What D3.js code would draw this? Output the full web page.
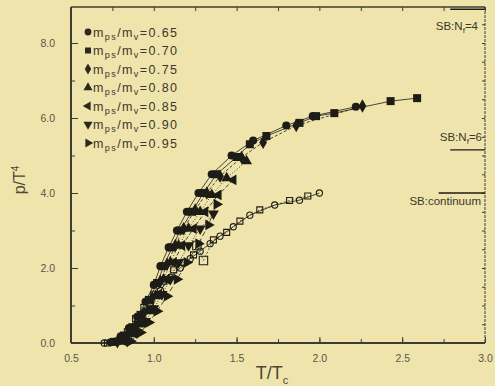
<!DOCTYPE html>
<html>
<head>
<meta charset="utf-8">
<script src="https://cdn.jsdelivr.net/npm/d3@7"></script>
<style>
  body { margin: 0; background: #eee4ac; }
  svg { display: block; font-family: "Liberation Sans", Arial, sans-serif; }
  .tick text { fill: #5a5848; font-size: 10.5px; }
</style>
</head>
<body>
<script>
// mass ratios for the filled series, in legend order
var ratios = ["0.65", "0.70", "0.75", "0.80", "0.85", "0.90", "0.95"];
var shapes = [d3.symbolCircle, d3.symbolSquare, d3.symbolDiamond, "up", "left", "down", "right"];

// T/Tc and p/T^4 per series
var t065 = [0.74, 0.80, 0.85, 0.90, 0.95, 1.00, 1.04, 1.09, 1.14, 1.20, 1.27, 1.35, 1.47, 1.60, 1.80, 1.96, 2.22];
var p065 = [0.02, 0.18, 0.40, 0.70, 1.10, 1.55, 2.05, 2.55, 3.00, 3.50, 4.00, 4.50, 5.00, 5.40, 5.80, 6.05, 6.30];
var t070 = [0.76, 0.82, 0.87, 0.92, 0.97, 1.02, 1.06, 1.11, 1.16, 1.23, 1.30, 1.38, 1.50, 1.58, 1.68, 1.88, 1.98, 2.09, 2.43, 2.59];
var p070 = [0.03, 0.20, 0.42, 0.75, 1.15, 1.60, 2.05, 2.55, 3.00, 3.50, 4.00, 4.50, 4.96, 5.30, 5.52, 5.87, 6.05, 6.13, 6.45, 6.53];
var t075 = [0.78, 0.84, 0.89, 0.94, 0.99, 1.04, 1.08, 1.13, 1.18, 1.25, 1.32, 1.40, 1.53, 1.66, 1.86, 2.26];
var p075 = [0.03, 0.22, 0.45, 0.80, 1.20, 1.65, 2.10, 2.60, 3.05, 3.55, 4.00, 4.45, 4.95, 5.35, 5.80, 6.32];
var t080 = [0.80, 0.86, 0.91, 0.96, 1.01, 1.06, 1.10, 1.15, 1.21, 1.28, 1.35, 1.44, 1.56];
var p080 = [0.04, 0.24, 0.50, 0.85, 1.25, 1.70, 2.15, 2.60, 3.05, 3.50, 3.95, 4.40, 4.85];
var t085 = [0.82, 0.88, 0.93, 0.98, 1.03, 1.08, 1.12, 1.17, 1.24, 1.31, 1.39, 1.48];
var p085 = [0.05, 0.26, 0.55, 0.90, 1.30, 1.70, 2.15, 2.60, 3.05, 3.50, 3.95, 4.35];
var t090 = [0.84, 0.90, 0.95, 1.00, 1.05, 1.10, 1.15, 1.21, 1.28, 1.36];
var p090 = [0.05, 0.28, 0.58, 0.92, 1.30, 1.70, 2.15, 2.60, 3.05, 3.45];
var t095 = [0.86, 0.92, 0.97, 1.02, 1.08, 1.14, 1.20, 1.27, 1.33, 1.38];
var p095 = [0.05, 0.28, 0.55, 0.85, 1.25, 1.70, 2.15, 2.65, 3.15, 3.70];

// open symbols
var tOpenSq = [0.72, 0.78, 0.84, 0.89, 0.94, 1.00, 1.06, 1.12, 1.18, 1.24, 1.26, 1.30, 1.36, 1.44, 1.52, 1.64, 1.82, 1.93];
var pOpenSq = [0.00, 0.05, 0.30, 0.65, 0.95, 1.30, 1.65, 1.95, 2.15, 2.35, 2.60, 2.20, 2.75, 2.95, 3.25, 3.55, 3.80, 3.92];
var tOpenCi = [0.70, 0.80, 0.86, 0.92, 0.98, 1.04, 1.10, 1.16, 1.22, 1.28, 1.34, 1.40, 1.48, 1.58, 1.73, 1.88, 2.00];
var pOpenCi = [0.00, 0.08, 0.35, 0.70, 1.05, 1.40, 1.75, 2.00, 2.25, 2.45, 2.65, 2.85, 3.10, 3.41, 3.68, 3.81, 4.00];

// Stefan-Boltzmann limits
var sbLabels = ["N_f=4", "N_f=6", "continuum"];
var sbValues = [8.90, 5.15, 4.00];

var xTicks = [0.5, 1.0, 1.5, 2.0, 2.5, 3.0];
var yTicks = [0, 2, 4, 6, 8];

var W = 495, H = 386;
var margin = { top: 7, right: 10, bottom: 43, left: 71 };
var width = W - margin.left - margin.right,
    height = H - margin.top - margin.bottom;

var ink = "#1e1c16";
var axisColor = "#3e3c30";

var svg = d3.select("body").append("svg")
    .attr("width", W)
    .attr("height", H);

svg.append("rect").attr("width", W).attr("height", H).attr("fill", "#eee4ac");

var g = svg.append("g")
    .attr("transform", "translate(" + margin.left + "," + margin.top + ")");

var x = d3.scaleLinear().domain([0.5, 3.0]).range([0, width]);
var y = d3.scaleLinear().domain([0, 8.96]).range([height, 0]);

function zip(t, p) {
    return t.map(function (v, i) { return { t: v, p: p[i] }; });
}

var series = [
    zip(t065, p065), zip(t070, p070), zip(t075, p075), zip(t080, p080),
    zip(t085, p085), zip(t090, p090), zip(t095, p095)
];

function symbolPath(shape, size) {
    if (typeof shape === "string") return d3.symbol(d3.symbolTriangle, size)();
    return d3.symbol(shape, size)();
}
function symbolRot(shape) {
    return { up: 0, down: 180, left: -90, right: 90 }[shape] || 0;
}

function styleAxis(a) {
    a.select(".domain").remove();
    a.selectAll("line").attr("stroke", axisColor);
}

// axes: ticks pointing inward on all four sides
var xMinor = d3.range(0.5, 3.001, 0.25);
var yMinor = d3.range(0, 8.96, 1);

g.append("g")
    .attr("transform", "translate(0," + height + ")")
    .call(d3.axisBottom(x).tickValues(xMinor).tickSize(-4).tickFormat(""))
    .call(styleAxis);
g.append("g")
    .attr("transform", "translate(0," + height + ")")
    .call(d3.axisBottom(x).tickValues(xTicks).tickSize(-6).tickPadding(12).tickFormat(d3.format(".1f")))
    .call(styleAxis);
g.append("g")
    .call(d3.axisTop(x).tickValues(xMinor).tickSize(-4).tickFormat(""))
    .call(styleAxis);

g.append("g")
    .call(d3.axisLeft(y).tickValues(yMinor).tickSize(-4).tickFormat(""))
    .call(styleAxis);
g.append("g")
    .call(d3.axisLeft(y).tickValues(yTicks).tickSize(-7).tickPadding(16).tickFormat(d3.format(".1f")))
    .call(styleAxis);
g.append("g")
    .attr("transform", "translate(" + width + ",0)")
    .call(d3.axisRight(y).tickValues(d3.range(0, 8.96, 0.5)).tickSize(-3).tickFormat(""))
    .call(styleAxis);

// frame
g.append("line").attr("x1", 0).attr("x2", 0).attr("y1", 0).attr("y2", height)
    .attr("stroke", axisColor).attr("stroke-width", 2);
g.append("line").attr("x1", 0).attr("x2", width).attr("y1", height).attr("y2", height)
    .attr("stroke", axisColor).attr("stroke-width", 2);
g.append("line").attr("x1", 0).attr("x2", width).attr("y1", 0).attr("y2", 0)
    .attr("stroke", axisColor).attr("stroke-width", 1.6);
g.append("line").attr("x1", width).attr("x2", width).attr("y1", 0).attr("y2", height)
    .attr("stroke", axisColor).attr("stroke-width", 1).attr("stroke-dasharray", "3,1");

// SB limits
var sbStart = [2.79, 2.79, 2.72];
sbValues.forEach(function (v, i) {
    g.append("line")
        .attr("x1", x(sbStart[i])).attr("x2", x(3.0))
        .attr("y1", y(v)).attr("y2", y(v))
        .attr("stroke", ink).attr("stroke-width", 1.4);
});
var sbText = g.append("g").attr("font-size", 11.5).attr("fill", "#3a382c").attr("text-anchor", "end");
[[8.45, 0, 7], [5.5, 1, 3], [3.78, 2, 4]].forEach(function (d) {
    var lbl = sbLabels[d[1]];
    var t = sbText.append("text").attr("x", width - d[2]).attr("y", y(d[0]) + 4);
    t.append("tspan").text("SB:");
    if (lbl.indexOf("N_f") === 0) {
        t.append("tspan").text("N");
        t.append("tspan").attr("font-size", 8).attr("dy", 3).text("f");
        t.append("tspan").attr("dy", -3).text(lbl.slice(3));
    } else {
        t.append("tspan").text(lbl);
    }
});

var line = d3.line().x(function (d) { return x(d.t); }).y(function (d) { return y(d.p); });
var dashes = [null, null, "3,2", "1,2", "4,2", "1,1.5", "5,3"];

series.forEach(function (s, i) {
    g.append("path").datum(s)
        .attr("d", line)
        .attr("fill", "none")
        .attr("stroke", ink)
        .attr("stroke-width", 0.8)
        .attr("stroke-dasharray", dashes[i]);
});

// open series
g.append("path").datum(zip(tOpenCi, pOpenCi)).attr("d", line)
    .attr("fill", "none").attr("stroke", ink).attr("stroke-width", 0.8);
g.append("path").datum(zip(tOpenSq, pOpenSq)).attr("d", line)
    .attr("fill", "none").attr("stroke", ink).attr("stroke-width", 0.7).attr("stroke-dasharray", "2,2");

g.selectAll(".osq").data(zip(tOpenSq, pOpenSq)).enter().append("path")
    .attr("class", "osq")
    .attr("transform", function (d) { return "translate(" + x(d.t) + "," + y(d.p) + ")"; })
    .attr("d", function (d, i) { return d3.symbol(d3.symbolSquare, (i === 10 || i === 11) ? 70 : 36)(); })
    .attr("fill", "none").attr("stroke", ink).attr("stroke-width", 1.1);
g.selectAll(".oci").data(zip(tOpenCi, pOpenCi)).enter().append("path")
    .attr("class", "oci")
    .attr("transform", function (d) { return "translate(" + x(d.t) + "," + y(d.p) + ")"; })
    .attr("d", d3.symbol(d3.symbolCircle, 30)())
    .attr("fill", "none").attr("stroke", ink).attr("stroke-width", 1.1);

// filled series
series.forEach(function (s, i) {
    g.selectAll(".s" + i).data(s).enter().append("path")
        .attr("class", "s" + i)
        .attr("transform", function (d) {
            return "translate(" + x(d.t) + "," + y(d.p) + ") rotate(" + symbolRot(shapes[i]) + ")";
        })
        .attr("d", symbolPath(shapes[i], i === 1 ? 64 : 52))
        .attr("fill", ink);
});

// legend
var legend = g.append("g").attr("transform", "translate(17,25)");
ratios.forEach(function (r, i) {
    var row = legend.append("g").attr("transform", "translate(0," + (i * 18.5) + ")");
    row.append("path")
        .attr("transform", "rotate(" + symbolRot(shapes[i]) + ")")
        .attr("d", symbolPath(shapes[i], 36))
        .attr("fill", "#2a2820");
    var t = row.append("text").attr("x", 5).attr("y", 4.5).attr("font-size", 12.5)
        .attr("letter-spacing", 1.4).attr("fill", "#3a382c");
    t.append("tspan").text("m");
    t.append("tspan").attr("font-size", 9).attr("dy", 3).text("ps");
    t.append("tspan").attr("dy", -3).text("/m");
    t.append("tspan").attr("font-size", 9).attr("dy", 3).text("v");
    t.append("tspan").attr("dy", -3).text("=" + r);
});

// axis titles
var xt = svg.append("text")
    .attr("x", 272).attr("y", 379)
    .attr("text-anchor", "middle")
    .attr("font-size", 18)
    .attr("fill", "#4a4838");
xt.append("tspan").text("T/T");
xt.append("tspan").attr("font-size", 11).attr("dy", 5).text("c");

var yt = svg.append("text")
    .attr("transform", "translate(25,180) rotate(-90)")
    .attr("text-anchor", "middle")
    .attr("font-size", 16)
    .attr("fill", "#4a4838");
yt.append("tspan").text("p/T");
yt.append("tspan").attr("font-size", 10).attr("dy", -6).text("4");
</script>
</body>
</html>
